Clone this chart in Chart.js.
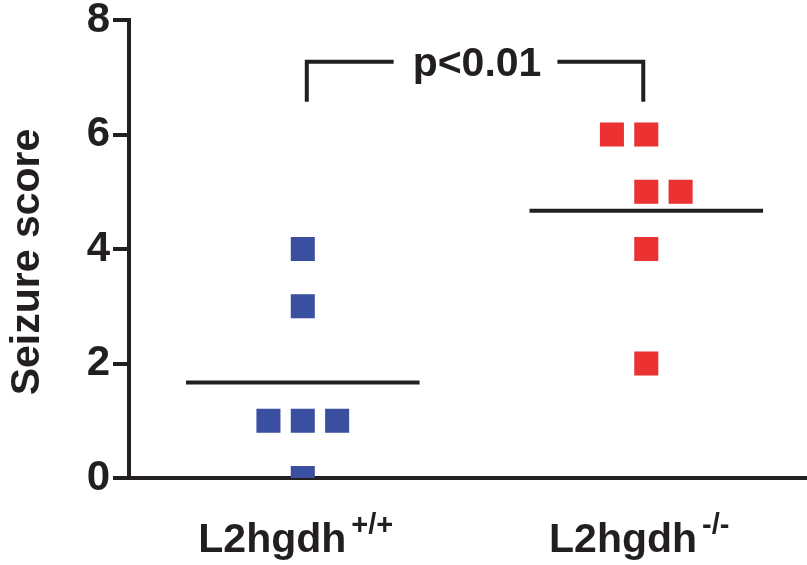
<!DOCTYPE html>
<html>
<head>
<meta charset="utf-8">
<script src="https://cdn.jsdelivr.net/npm/chart.js@4"></script>
<style>
  html, body { margin: 0; padding: 0; background: #fff; }
  #wrap { width: 807px; height: 565px; }
</style>
</head>
<body>
<div id="wrap"><canvas id="chart"></canvas></div>
<script>
// data
const groupNames = ["L2hgdh", "L2hgdh"];
const genotypes = ["+/+", "-/-"];
const groupX = [1, 2];
const wtScores = [4, 3, 1, 1, 1, 0];
const wtJitter = [0, 0, -0.1, 0, 0.1, 0];
const koScores = [6, 6, 5, 5, 4, 2];
const koJitter = [-0.1, 0, 0, 0.1, 0, 0];
const yTicks = [0, 2, 4, 6, 8];
const yTitle = "Seizure score";
const pLabel = "p<0.01";
const bracketTop = 7.27;
const bracketBottom = 6.57;

const INK = "#231f20";
const BLUE = "#3a4f9f";
const RED = "#ec3132";
const FONT = "'Liberation Sans', Arial, sans-serif";
const LW = 4;

const mean = (a) => a.reduce((s, v) => s + v, 0) / a.length;
const toPoints = (scores, jitter, gx) => scores.map((y, i) => ({ x: gx + jitter[i], y }));
const meanLine = (scores, gx) => [
  { x: gx - 0.34, y: mean(scores) },
  { x: gx + 0.34, y: mean(scores) },
];

const extras = {
  id: "extras",
  afterDraw(chart) {
    const ctx = chart.ctx;
    const xs = chart.scales.x;
    const ys = chart.scales.y;
    ctx.save();
    ctx.fillStyle = INK;
    ctx.strokeStyle = INK;

    // y title, a bit below the middle like the original
    ctx.save();
    ctx.translate(28, 262);
    ctx.rotate(-Math.PI / 2);
    ctx.font = "bold 41px " + FONT;
    ctx.textAlign = "center";
    ctx.textBaseline = "middle";
    ctx.fillText(yTitle, 0, 0);
    ctx.restore();

    // group labels with superscripts
    groupX.forEach((gx, i) => {
      const px = xs.getPixelForValue(gx) - 7;
      ctx.font = "bold 41px " + FONT;
      const mw = ctx.measureText(groupNames[i]).width;
      ctx.font = "bold 29px " + FONT;
      const sw = ctx.measureText(genotypes[i]).width;
      const start = px - (mw + 5 + sw) / 2;
      ctx.textAlign = "left";
      ctx.textBaseline = "alphabetic";
      ctx.font = "bold 41px " + FONT;
      ctx.fillText(groupNames[i], start, 552);
      ctx.font = "bold 29px " + FONT;
      ctx.fillText(genotypes[i], start + mw + 5, 534);
    });

    // significance bracket
    const x1 = xs.getPixelForValue(groupX[0]) + 4;
    const x2 = xs.getPixelForValue(groupX[1]) - 3;
    const yt = ys.getPixelForValue(bracketTop);
    const yb = ys.getPixelForValue(bracketBottom);
    const cx = (x1 + x2) / 2 + 2;
    ctx.font = "bold 41px " + FONT;
    const tw = ctx.measureText(pLabel).width;
    ctx.lineWidth = LW;
    ctx.beginPath();
    ctx.moveTo(x1, yb);
    ctx.lineTo(x1, yt);
    ctx.lineTo(cx - tw / 2 - 19, yt);
    ctx.moveTo(cx + tw / 2 + 16, yt);
    ctx.lineTo(x2, yt);
    ctx.lineTo(x2, yb);
    ctx.stroke();
    ctx.textAlign = "center";
    ctx.textBaseline = "middle";
    ctx.fillText(pLabel, cx, yt + 3);
    ctx.restore();
  },
};

new Chart(document.getElementById("chart"), {
  type: "scatter",
  data: {
    datasets: [
      {
        data: toPoints(wtScores, wtJitter, groupX[0]),
        pointStyle: "rect",
        pointRadius: 17,
        pointHoverRadius: 17,
        pointBorderWidth: 0,
        backgroundColor: BLUE,
        borderColor: BLUE,
        clip: 0,
      },
      {
        data: toPoints(koScores, koJitter, groupX[1]),
        pointStyle: "rect",
        pointRadius: 17,
        pointHoverRadius: 17,
        pointBorderWidth: 0,
        backgroundColor: RED,
        borderColor: RED,
        clip: 0,
      },
      {
        type: "line",
        data: meanLine(wtScores, groupX[0]),
        borderColor: INK,
        borderWidth: LW,
        pointRadius: 0,
        clip: false,
      },
      {
        type: "line",
        data: meanLine(koScores, groupX[1]),
        borderColor: INK,
        borderWidth: LW,
        pointRadius: 0,
        clip: false,
      },
    ],
  },
  options: {
    responsive: true,
    maintainAspectRatio: false,
    animation: false,
    events: [],
    layout: { autoPadding: false, padding: { top: 20, right: 0, left: 0, bottom: 0 } },
    plugins: { legend: { display: false }, tooltip: { enabled: false } },
    scales: {
      x: {
        type: "linear",
        min: 0.494,
        max: 2.468,
        ticks: { display: false },
        grid: { display: false },
        border: { color: INK, width: LW },
        afterFit(s) {
          s.height = 87;
          s.paddingLeft = 0;
          s.paddingRight = 0;
        },
      },
      y: {
        min: 0,
        max: 8,
        afterBuildTicks(s) {
          s.ticks = yTicks.map((v) => ({ value: v }));
        },
        ticks: {
          color: INK,
          padding: 3,
          font: { family: FONT, size: 42, weight: "bold", lineHeight: 0.8 },
        },
        grid: {
          drawOnChartArea: false,
          tickLength: 16,
          lineWidth: LW,
          color: INK,
        },
        border: { color: INK, width: LW },
        afterFit(s) {
          s.width = 129;
          s.paddingTop = 0;
          s.paddingBottom = 0;
        },
      },
    },
  },
  plugins: [extras],
});
</script>
</body>
</html>
